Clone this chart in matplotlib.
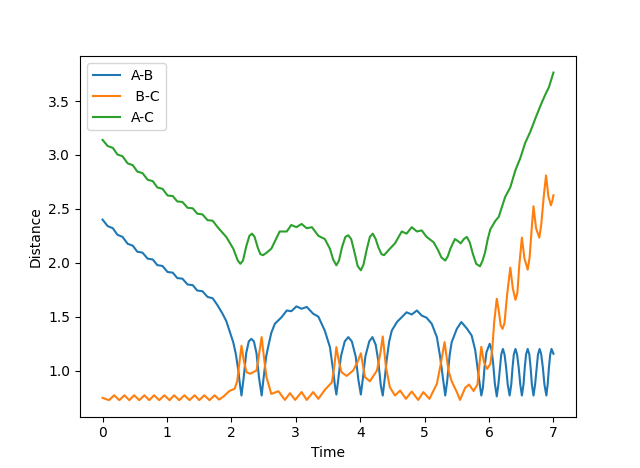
import matplotlib
matplotlib.use("Agg")
import matplotlib.pyplot as plt

# A-B distance
t_ab = [0.00, 0.08, 0.16, 0.23, 0.31, 0.39, 0.47, 0.54, 0.62, 0.70, 0.78, 0.85, 0.93,
        1.01, 1.09, 1.16, 1.24, 1.32, 1.40, 1.47, 1.55, 1.63, 1.71, 1.78, 1.86,
        1.92, 1.97, 2.03, 2.07, 2.11, 2.135, 2.157, 2.19, 2.23, 2.27, 2.31, 2.35, 2.39, 2.43, 2.47,
        2.50, 2.54, 2.57, 2.62, 2.675, 2.78, 2.86, 2.93, 3.01, 3.09, 3.17, 3.27, 3.35,
        3.45, 3.53, 3.58, 3.61, 3.63, 3.66, 3.70, 3.76, 3.815, 3.87, 3.93, 3.97, 4.01,
        4.04, 4.08, 4.14, 4.19, 4.24, 4.28, 4.32, 4.35, 4.38, 4.41, 4.45, 4.49, 4.57,
        4.67, 4.72, 4.80, 4.88, 4.955, 5.03, 5.11, 5.19, 5.24, 5.29, 5.32, 5.35, 5.39,
        5.42, 5.50, 5.57, 5.655, 5.73, 5.785, 5.84, 5.88, 5.905, 5.93, 5.96, 6.01,
        6.04, 6.065, 6.09, 6.12, 6.145, 6.17, 6.19, 6.215, 6.24, 6.265, 6.29, 6.32,
        6.345, 6.365, 6.385, 6.41, 6.435, 6.46, 6.485, 6.51, 6.535, 6.555, 6.575, 6.60,
        6.625, 6.645, 6.665, 6.69, 6.715, 6.74, 6.76, 6.785, 6.81, 6.835, 6.86, 6.89,
        6.91, 6.93, 6.95, 6.97, 6.99, 7.00]
d_ab = [2.400, 2.340, 2.320, 2.260, 2.240, 2.176, 2.158, 2.102, 2.094, 2.038, 2.030, 1.978, 1.970,
        1.914, 1.908, 1.858, 1.852, 1.798, 1.792, 1.742, 1.736, 1.683, 1.670, 1.610, 1.530,
        1.460, 1.370, 1.260, 1.150, 0.990, 0.860, 0.768, 0.930, 1.160, 1.270, 1.294, 1.270, 1.160, 0.930, 0.768,
        0.930, 1.130, 1.217, 1.350, 1.434, 1.495, 1.557, 1.550, 1.595, 1.573, 1.590, 1.527, 1.500,
        1.370, 1.217, 1.000, 0.850, 0.777, 0.920, 1.130, 1.270, 1.310, 1.270, 1.130, 0.920, 0.777,
        0.920, 1.130, 1.270, 1.310, 1.240, 1.093, 0.860, 0.768, 0.920, 1.093, 1.270, 1.370, 1.450,
        1.510, 1.540, 1.520, 1.557, 1.510, 1.490, 1.434, 1.310, 1.130, 0.900, 0.768, 0.900, 1.150,
        1.263, 1.387, 1.450, 1.390, 1.325, 1.190, 0.940, 0.768, 0.840, 1.030, 1.170, 1.248,
        1.190, 1.060, 0.880, 0.760, 0.870, 1.030, 1.150, 1.200, 1.150, 1.030, 0.870, 0.768,
        0.870, 1.030, 1.150, 1.200, 1.150, 1.030, 0.870, 0.768, 0.870, 1.030, 1.150, 1.200,
        1.150, 1.030, 0.870, 0.768, 0.870, 1.030, 1.150, 1.200, 1.150, 1.030, 0.870, 0.768,
        0.870, 1.030, 1.150, 1.200, 1.170, 1.155]

# B-C distance
t_bc = [0.00, 0.10, 0.18, 0.26, 0.34, 0.415, 0.49, 0.57, 0.65, 0.725, 0.80, 0.88, 0.96,
        1.04, 1.11, 1.19, 1.27, 1.35, 1.43, 1.50, 1.58, 1.66, 1.74, 1.81, 1.88, 1.97,
        2.05, 2.09, 2.12, 2.157, 2.19, 2.235, 2.29, 2.39, 2.43, 2.47, 2.51, 2.545,
        2.62, 2.73, 2.83, 2.91, 2.99, 3.09, 3.17, 3.27, 3.35, 3.45, 3.56, 3.60, 3.63,
        3.67, 3.71, 3.79, 3.89, 3.96, 4.01, 4.05, 4.075, 4.15, 4.26, 4.31, 4.35, 4.40,
        4.46, 4.54, 4.62, 4.71, 4.80, 4.90, 4.98, 5.075, 5.19, 5.25, 5.31, 5.37, 5.42,
        5.50, 5.55, 5.63, 5.69, 5.76, 5.82, 5.85, 5.88, 5.92, 5.97, 6.02, 6.05, 6.08,
        6.12, 6.15, 6.18, 6.21, 6.24, 6.28, 6.33, 6.37, 6.41, 6.44, 6.47, 6.51, 6.55,
        6.60, 6.63, 6.66, 6.69, 6.73, 6.78, 6.81, 6.85, 6.885, 6.92, 6.96, 6.98, 7.00]
d_bc = [0.746, 0.725, 0.770, 0.725, 0.770, 0.725, 0.770, 0.725, 0.770, 0.725, 0.770, 0.725, 0.770,
        0.725, 0.770, 0.725, 0.770, 0.725, 0.770, 0.725, 0.770, 0.725, 0.770, 0.730, 0.760, 0.810,
        0.830, 0.900, 1.050, 1.230, 1.100, 0.984, 0.970, 1.000, 1.150, 1.310, 1.100, 0.938,
        0.783, 0.808, 0.727, 0.790, 0.727, 0.800, 0.727, 0.800, 0.737, 0.820, 0.890, 1.050, 1.217,
        1.080, 0.984, 0.950, 1.000, 1.080, 1.160, 1.020, 0.938, 0.900, 1.000, 1.150, 1.316, 1.030,
        0.845, 0.768, 0.814, 0.737, 0.805, 0.727, 0.800, 0.737, 0.876, 1.060, 1.263, 1.000, 0.900,
        0.800, 0.727, 0.840, 0.870, 0.810, 0.870, 1.050, 1.220, 1.080, 1.015, 1.060, 1.200, 1.450,
        1.666, 1.560, 1.420, 1.387, 1.440, 1.700, 1.954, 1.760, 1.656, 1.720, 1.980, 2.233, 2.040,
        1.936, 2.050, 2.300, 2.524, 2.320, 2.233, 2.350, 2.620, 2.810, 2.620, 2.533, 2.570, 2.626]

# A-C distance
t_ac = [0.00, 0.08, 0.16, 0.23, 0.31, 0.39, 0.47, 0.54, 0.62, 0.70, 0.78, 0.85, 0.93,
        1.01, 1.09, 1.16, 1.24, 1.32, 1.40, 1.47, 1.55, 1.63, 1.71, 1.78, 1.86,
        1.92, 2.03, 2.10, 2.14, 2.18, 2.23, 2.28, 2.32, 2.36, 2.41, 2.45, 2.49, 2.54,
        2.62, 2.75, 2.86, 2.93, 3.01, 3.09, 3.17, 3.25, 3.35, 3.45, 3.53, 3.58, 3.63,
        3.67, 3.72, 3.77, 3.815, 3.86, 3.91, 3.96, 4.01, 4.05, 4.10, 4.15, 4.195, 4.24,
        4.28, 4.33, 4.37, 4.46, 4.54, 4.645, 4.72, 4.80, 4.88, 4.955, 5.03, 5.14, 5.21,
        5.26, 5.32, 5.36, 5.40, 5.47, 5.52, 5.56, 5.61, 5.655, 5.70, 5.75, 5.80, 5.86,
        5.90, 5.94, 5.98, 6.02, 6.10, 6.15, 6.25, 6.33, 6.41, 6.485, 6.56, 6.64, 6.72,
        6.80, 6.87, 6.93, 7.00]
d_ac = [3.140, 3.083, 3.066, 3.005, 2.988, 2.922, 2.905, 2.846, 2.832, 2.770, 2.757, 2.699, 2.686,
        2.624, 2.619, 2.569, 2.564, 2.510, 2.505, 2.455, 2.449, 2.395, 2.390, 2.335, 2.280,
        2.240, 2.130, 2.020, 1.990, 2.020, 2.150, 2.250, 2.270, 2.240, 2.140, 2.080, 2.070, 2.090,
        2.130, 2.290, 2.290, 2.350, 2.330, 2.360, 2.320, 2.330, 2.250, 2.220, 2.130, 2.030, 1.976,
        2.020, 2.150, 2.240, 2.255, 2.220, 2.100, 1.970, 1.930, 1.980, 2.120, 2.240, 2.270, 2.220,
        2.146, 2.080, 2.070, 2.130, 2.180, 2.290, 2.270, 2.330, 2.290, 2.300, 2.240, 2.190, 2.115,
        2.050, 2.020, 2.060, 2.130, 2.220, 2.200, 2.180, 2.220, 2.240, 2.190, 2.080, 1.990, 1.967,
        2.020, 2.100, 2.220, 2.310, 2.390, 2.425, 2.610, 2.700, 2.860, 2.970, 3.110, 3.215, 3.340,
        3.460, 3.556, 3.630, 3.765]

labels = ["A-B", " B-C", "A-C"]

fig, ax = plt.subplots(figsize=(6.4, 4.68), dpi=100)
ax.plot(t_ab, d_ab, label=labels[0])
ax.plot(t_bc, d_bc, label=labels[1])
ax.plot(t_ac, d_ac, label=labels[2])
ax.set_xlabel("Time")
ax.set_ylabel("Distance")
ax.legend(loc="upper left")
fig.savefig("out.png", dpi=100)
